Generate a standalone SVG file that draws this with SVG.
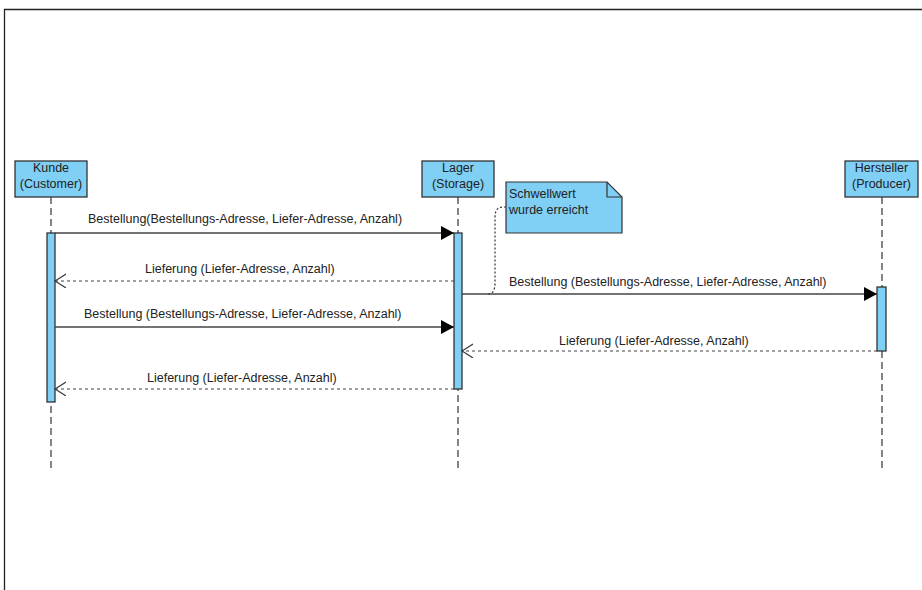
<svg xmlns="http://www.w3.org/2000/svg" width="922" height="590" viewBox="0 0 922 590">
<style>
text{font-family:"Liberation Sans",Arial,sans-serif;font-size:12.5px;fill:#222}
.head{fill:#80cff4;stroke:#333;stroke-width:1.3}
.act{fill:#80cff4;stroke:#333;stroke-width:1.3}
.life{stroke:#444;stroke-width:1.3;stroke-dasharray:7,4;fill:none}
.msg{stroke:#444;stroke-width:1.3;fill:none}
.ret{stroke:#444;stroke-width:1.1;stroke-dasharray:3,3;fill:none}
.c{text-anchor:middle}
</style>
<defs>
<marker id="filled" markerWidth="14" markerHeight="14" refX="13" refY="7" orient="auto" markerUnits="userSpaceOnUse">
<path d="M0,0 L13,7 L0,14 Z" fill="#000"/>
</marker>
<marker id="open" markerWidth="12" markerHeight="16" refX="11" refY="7" orient="auto" markerUnits="userSpaceOnUse">
<path d="M0,0 L11,7 L0,14" fill="none" stroke="#333" stroke-width="1.1"/>
</marker>
</defs>
<rect width="922" height="590" fill="#fff"/>
<path d="M4.5,590 V9.5 H922" fill="none" stroke="#222" stroke-width="1.3"/>

<g id="kunde">
<line class="life" x1="51" y1="197" x2="51" y2="472"/>
<rect class="head" x="15" y="161" width="72" height="36"/>
<text class="c" x="51" y="172">Kunde</text>
<text class="c" x="51" y="188">(Customer)</text>
<rect class="act" x="47" y="233" width="8" height="169"/>
</g>

<g id="lager">
<line class="life" x1="458" y1="197" x2="458" y2="472"/>
<rect class="head" x="422" y="161" width="72" height="36"/>
<text class="c" x="458" y="172">Lager</text>
<text class="c" x="458" y="188">(Storage)</text>
<rect class="act" x="454" y="233" width="8" height="156"/>
</g>

<g id="hersteller">
<line class="life" x1="882" y1="197" x2="882" y2="472"/>
<rect class="head" x="845" y="161" width="73" height="36"/>
<text class="c" x="881.5" y="172">Hersteller</text>
<text class="c" x="881.5" y="188">(Producer)</text>
<rect class="act" x="877" y="287" width="9" height="64"/>
</g>

<g id="note">
<path d="M506,182 H607 L622,197 V233 H506 Z" fill="#80cff4" stroke="#333" stroke-width="1.2"/>
<path d="M607,182 V197 H622" fill="none" stroke="#333" stroke-width="1.2"/>
<text x="509" y="198">Schwellwert</text>
<text x="509" y="214">wurde erreicht</text>
</g>

<g id="connectors">
<path d="M506,207 H503 Q495,207 495,217 V283 Q495,294 488,294" fill="none" stroke="#333" stroke-width="1.2" stroke-dasharray="2,2"/>
<line class="msg" x1="55" y1="233" x2="454" y2="233" marker-end="url(#filled)"/>
<line class="ret" x1="454" y1="281" x2="55" y2="281" marker-end="url(#open)"/>
<line class="msg" x1="462" y1="294" x2="877" y2="294" marker-end="url(#filled)"/>
<line class="msg" x1="55" y1="327" x2="454" y2="327" marker-end="url(#filled)"/>
<line class="ret" x1="877" y1="351" x2="462" y2="351" marker-end="url(#open)"/>
<line class="ret" x1="454" y1="389" x2="55" y2="389" marker-end="url(#open)"/>
<text x="88" y="223">Bestellung(Bestellungs-Adresse, Liefer-Adresse, Anzahl)</text>
<text x="145" y="273">Lieferung (Liefer-Adresse, Anzahl)</text>
<text x="509" y="286">Bestellung (Bestellungs-Adresse, Liefer-Adresse, Anzahl)</text>
<text x="84" y="318">Bestellung (Bestellungs-Adresse, Liefer-Adresse, Anzahl)</text>
<text x="559" y="345">Lieferung (Liefer-Adresse, Anzahl)</text>
<text x="147" y="382">Lieferung (Liefer-Adresse, Anzahl)</text>
</g>
</svg>
